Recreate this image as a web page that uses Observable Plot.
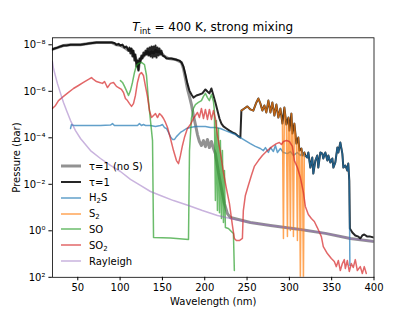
<!DOCTYPE html>
<html><head><meta charset="utf-8">
<script src="https://cdn.jsdelivr.net/npm/d3@7"></script>
<script src="https://cdn.jsdelivr.net/npm/@observablehq/plot@0.6"></script>
<style>
body{margin:0;background:#fff;font-family:"DejaVu Sans",sans-serif;}
#wrap{position:relative;width:415px;height:311px;}
#title{position:absolute;left:52px;width:321.6px;top:20px;text-align:center;font-size:12px;line-height:14px;white-space:nowrap;color:#000;}
#title sub{font-size:8.4px;vertical-align:-2.5px;line-height:0;}
.leg{position:absolute;left:61px;height:14px;display:flex;align-items:center;font-size:10px;white-space:nowrap;color:#000;}
.leg svg{width:20px;height:10px;margin-right:8px;overflow:visible;}
.leg sub{font-size:7px;vertical-align:-2px;line-height:0;}
</style></head>
<body><div id="wrap"><div id="title"><i>T</i><sub>int</sub> = 400 K, strong mixing</div></div>
<script>
// [wavelength (nm), log10 pressure (bar)]
const tauNoS = [[20,-7.80],[26,-7.88],[33.1,-7.97],[41.4,-8.0],[53.2,-8.0],[62.7,-8.06],[72.1,-8.1],[81.6,-8.1],[89.8,-8.1],[95.7,-8.0],[100.4,-7.97],[105.2,-7.88],[109.9,-7.75],[113.4,-7.8],[116,-7.6],[118.1,-7.45],[120.5,-7.2],[121.7,-6.95],[123,-7.3],[125.2,-7.45],[127.6,-7.5],[130,-7.6],[132.3,-7.7],[134.7,-7.6],[137.1,-7.7],[139.5,-7.65],[141.8,-7.75],[144.2,-7.7],[146.5,-7.7],[148.9,-7.65],[152.5,-7.5],[157.2,-7.41],[165.4,-7.37],[172.5,-7.24],[174.8,-6.98],[177.2,-6.55],[179.5,-6.12],[181.9,-5.78],[184.3,-5.43],[186.6,-4.96],[189,-4.57],[191.4,-4.14],[193.7,-3.84],[196.1,-3.67],[198.5,-3.88],[200.8,-3.62],[203.2,-3.93],[205.5,-3.58],[207.9,-3.84],[210.3,-3.54],[212.6,-3.32],[216.2,-2.51],[219.7,-1.82],[223.3,-1.17],[226.8,-0.74],[230.3,-0.57],[253.9,-0.36],[277.6,-0.23],[313,-0.06],[342.5,0.11],[372,0.33],[400,0.46]];
const tau = [[20,-7.80],[22.5,-7.84],[26,-7.88],[29.6,-7.93],[33.1,-7.97],[36.7,-7.97],[41.4,-8.0],[47.3,-8.0],[53.2,-8.0],[59.1,-8.03],[62.7,-8.06],[67.4,-8.08],[72.1,-8.1],[76.8,-8.1],[81.6,-8.1],[86.3,-8.1],[89.8,-8.1],[93.3,-8.08],[95.7,-8.0],[98.1,-8.04],[100.4,-7.97],[102.8,-8.01],[105.2,-7.88],[107.5,-7.93],[109.9,-7.75],[111.1,-7.88],[112.2,-7.63],[113.4,-7.84],[114.6,-7.50],[115.8,-7.75],[117,-7.32],[118.1,-7.58],[119.3,-7.07],[120.5,-7.32],[121.7,-6.89],[122.9,-7.41],[124,-7.24],[125.2,-7.54],[126.4,-7.41],[127.6,-7.67],[128.8,-7.54],[130,-7.75],[131.2,-7.58],[132.3,-7.84],[133.5,-7.54],[134.7,-7.88],[135.9,-7.50],[137.1,-7.93],[138.3,-7.45],[139.5,-7.93],[140.6,-7.50],[141.8,-7.97],[143,-7.45],[144.2,-7.88],[145.4,-7.54],[146.5,-7.84],[147.7,-7.58],[148.9,-7.75],[150.1,-7.54],[152.5,-7.50],[154.8,-7.41],[157.2,-7.41],[160.7,-7.41],[165.4,-7.37],[170.1,-7.32],[172.5,-7.24],[174.8,-7.07],[177.2,-6.72],[179.5,-6.34],[181.9,-6.03],[184.3,-5.86],[186.6,-5.73],[190.2,-5.82],[193.7,-5.86],[197.2,-5.91],[200.8,-6.08],[203.2,-5.99],[205.5,-5.91],[207.9,-6.12],[210.3,-5.82],[212.6,-5.52],[215,-5.17],[217.4,-4.83],[219.7,-4.61],[222.1,-4.49],[225.6,-4.40],[229.2,-4.31],[232.7,-4.23],[236.2,-4.18],[239.8,-4.06],[242.1,-4.01],[243.3,-5.17],[246.8,-5.26],[250.4,-5.35],[253.9,-5.22],[257.4,-5.17],[261,-5.52],[263.4,-5.69],[265.7,-5.48],[268.1,-5.17],[270.5,-5.39],[272.8,-5.09],[275.2,-5.60],[277.6,-5.09],[279.9,-5.52],[282.3,-4.96],[284.7,-5.43],[287,-4.87],[289.4,-5.26],[291.8,-4.61],[294.1,-5.30],[296.5,-4.57],[298.9,-4.87],[300,-4.31],[302.4,-5.04],[303.6,-4.18],[305.9,-4.61],[308.3,-3.75],[310.6,-4.01],[311.8,-3.45],[314.2,-3.54],[315.4,-3.24],[317.7,-3.37],[318.9,-3.24],[321.2,-3.15],[322.4,-3.37],[324.8,-2.72],[327.1,-3.15],[328.3,-2.46],[330.7,-3.02],[333,-3.24],[334.2,-2.72],[336.6,-3.37],[339,-3.32],[340.1,-3.11],[342.5,-3.37],[344.9,-3.02],[346.1,-3.24],[348.4,-2.94],[350.8,-3.11],[352,-2.72],[354.3,-2.94],[356.7,-3.58],[357.9,-3.37],[360.2,-3.80],[362.6,-3.32],[363.8,-2.72],[366.1,-2.81],[368.5,-2.59],[369.6,-2.89],[370.8,-2.16],[371.5,-0.10],[374.4,0.07],[377.9,0.20],[381.6,0.25],[383.8,0.33],[386.2,0.20],[388.5,0.16],[392.1,0.25],[395.6,0.25],[400,0.29]];
const h2s = [[41.4,-4.40],[42.6,-4.57],[44.9,-4.53],[53.2,-4.53],[65,-4.53],[76.8,-4.53],[88.6,-4.55],[91,-4.61],[93.3,-4.53],[100.4,-4.53],[112.2,-4.53],[120.5,-4.53],[122.9,-4.61],[125.2,-4.53],[127.6,-4.57],[130,-4.53],[135.9,-4.53],[141.8,-4.49],[147.7,-4.53],[150.1,-4.57],[152.5,-4.44],[154.8,-4.40],[157.2,-4.23],[159.5,-4.05],[161.9,-3.93],[164.3,-3.93],[166.6,-4.05],[169,-4.14],[171.3,-4.23],[174.8,-4.31],[178.4,-4.40],[183.1,-4.44],[189,-4.49],[194.9,-4.49],[200.8,-4.49],[206.7,-4.44],[212.6,-4.44],[218.5,-4.40],[224.4,-4.31],[230.3,-4.23],[236.2,-4.14],[242.1,-4.01],[248,-3.88],[253.9,-3.75],[259.8,-3.63],[265.7,-3.54],[269.3,-3.45],[271.7,-3.58],[275.2,-3.37],[277.6,-3.58],[281.1,-3.41],[283.5,-3.67],[285.9,-3.37],[289.4,-3.54],[292.9,-3.37],[297.7,-3.32],[301.2,-3.41],[304.8,-3.24],[309.5,-3.37],[313,-3.24],[315.4,-3.37],[317.7,-3.20],[318.9,-3.24],[321.2,-3.15],[322.4,-3.37],[324.8,-2.72],[327.1,-3.15],[328.3,-2.46],[330.7,-3.02],[333,-3.24],[334.2,-2.72],[336.6,-3.37],[339,-3.32],[340.1,-3.11],[342.5,-3.37],[344.9,-3.02],[346.1,-3.24],[348.4,-2.94],[350.8,-3.11],[352,-2.72],[354.3,-2.94],[356.7,-3.58],[357.9,-3.37],[360.2,-3.80],[362.6,-3.32],[363.8,-2.72],[366.1,-2.81],[368.5,-2.59],[369.6,-2.89],[370.8,-2.16],[371.5,1.49]];
const s2 = [[243.3,-5.17],[246.8,-5.26],[250.4,-5.35],[253.9,-5.22],[257.4,-5.17],[261,-5.52],[263.4,-5.69],[265.7,-5.48],[268.1,-5.17],[270.5,-5.39],[272.8,-5.09],[275.2,-5.60],[277.6,-5.09],[279.9,-5.52],[282.3,-4.96],[284.7,-5.43],[287,-4.87],[289.4,-5.26],[291.8,-4.61],[293,0.33],[294.1,-5.30],[296.5,-4.57],[297.7,0.25],[298.9,-4.87],[300,-4.31],[301.2,-0.01],[302.4,-5.04],[303.6,-4.18],[304.8,0.25],[305.9,-4.61],[308.3,-3.75],[309.5,0.42],[310.6,-4.01],[311.8,-3.45],[313,2.14],[314.2,-3.54],[315.4,-3.24],[316.6,2.22],[317.7,-3.37]];
const so = [[100.4,-6.46],[102.8,-6.38],[105.2,-6.21],[107.5,-6.03],[109.9,-5.82],[112.2,-6.03],[114.6,-6.38],[117,-6.81],[119.3,-7.11],[121.7,-7.20],[125.2,-7.24],[128.8,-7.15],[131.2,-6.68],[133.5,-5.60],[135.9,-4.74],[138.3,-3.88],[139.5,0.29],[159.5,0.31],[180.8,0.37],[182,-3.45],[184.3,-4.83],[186.6,-5.26],[189,-5.43],[192.5,-5.52],[196.1,-5.60],[198.5,-5.78],[200.8,-5.91],[203.2,-5.73],[205.5,-5.60],[207.9,-5.86],[210.3,-5.56],[211.4,-5.17],[212.6,-1.30],[213.8,-4.74],[215,-0.87],[216.2,-4.40],[217.4,-0.78],[218.5,-3.88],[219.7,-0.53],[220.9,-3.45],[222.1,-0.36],[223.3,-2.59],[224.4,-0.14],[228,-0.10],[231.5,0.03],[233.9,0.12],[235,1.71]];
const so2 = [[20,-5.26],[23.7,-5.39],[27.2,-5.60],[33.1,-5.78],[39,-5.95],[44.9,-6.12],[50.8,-6.25],[56.7,-6.38],[62.7,-6.51],[66.2,-6.59],[68.6,-6.51],[72.1,-6.42],[75.7,-6.38],[79.2,-6.34],[81.6,-6.42],[85.1,-6.16],[88.6,-6.34],[92.2,-6.38],[95.7,-6.21],[98.1,-6.16],[101.6,-6.08],[104,-5.95],[106.3,-5.69],[108.7,-5.60],[111.1,-5.47],[113.5,-5.35],[115.8,-5.47],[118.1,-5.82],[120.5,-6.38],[122.9,-6.72],[125.2,-6.81],[127.6,-6.68],[130,-6.21],[132.3,-5.78],[134.7,-5.17],[137.1,-4.87],[139.5,-4.96],[141.8,-5.04],[144.2,-4.87],[146.5,-5.04],[148.9,-4.96],[151.3,-4.83],[153.6,-4.66],[156,-4.44],[159.5,-3.97],[163.1,-3.45],[166.6,-3.02],[169,-2.89],[171.3,-3.24],[173.7,-3.67],[176,-4.01],[179.5,-4.40],[183.1,-4.57],[186.6,-4.83],[189,-4.96],[191.4,-5.09],[193.7,-4.87],[196.1,-5.26],[198.5,-4.83],[200.8,-5.22],[203.2,-4.79],[205.5,-5.22],[207.9,-4.79],[210.3,-5.17],[212.6,-4.83],[215,-4.10],[218.5,-3.37],[222.1,-2.51],[225.6,-1.82],[229.2,-1.17],[232.7,-0.23],[235,0.33],[237.4,0.42],[240.9,0.42],[244.5,0.33],[245.6,-0.87],[248,-1.52],[251.5,-1.95],[255.1,-2.38],[258.6,-2.77],[263.4,-3.02],[268.1,-3.24],[274,-3.45],[279.9,-3.63],[284.7,-3.75],[288.2,-3.80],[290.6,-3.71],[293,-3.84],[296.5,-3.88],[300,-3.84],[303.6,-3.63],[305.9,-3.02],[309.5,-2.72],[313,-2.29],[316.6,-1.65],[318.9,-1.05],[322.4,-0.70],[326,-0.53],[329.5,-0.40],[333,-0.14],[337.8,0.25],[340.1,0.68],[344.9,0.98],[349.6,1.19],[353.1,1.32],[355.5,1.54],[357.9,1.28],[360.2,1.71],[362.6,1.41],[364.9,1.24],[366.1,1.62],[368.5,1.28],[370.8,1.75],[373.2,1.41],[375.5,1.58],[377.9,1.24],[380.3,1.71],[383.8,1.54],[386.2,1.84],[388.5,1.54],[390.9,1.84]];
const rayleigh = [[20,-7.28],[21.3,-6.98],[23.7,-6.64],[26,-6.33],[29.6,-5.91],[33.1,-5.52],[36.7,-5.17],[41.4,-4.74],[47.3,-4.31],[53.2,-3.97],[59.1,-3.71],[65,-3.45],[76.8,-3.11],[88.6,-2.81],[100.4,-2.55],[112.2,-2.21],[124,-1.95],[135.9,-1.69],[147.7,-1.52],[163.1,-1.30],[180.8,-1.09],[197.2,-0.87],[215,-0.66],[230.3,-0.53],[253.9,-0.36],[277.6,-0.23],[313,-0.06],[342.5,0.11],[372,0.33],[400,0.46]];

const seriesNames = ["τ=1 (no S)", "τ=1", "H<sub>2</sub>S", "S<sub>2</sub>", "SO", "SO<sub>2</sub>", "Rayleigh"];
const seriesData = [tauNoS, tau, h2s, s2, so, so2, rayleigh];
const seriesColors = ["#7f7f7f", "#000000", "#1f77b4", "#ff7f0e", "#2ca02c", "#d62728", "#9467bd"];
const seriesWidths = [3, 2, 1.5, 1.5, 1.5, 1.5, 1.5];
const seriesOpacity = [0.85, 0.85, 0.7, 0.7, 0.7, 0.7, 0.5];

const xTicks = [50, 100, 150, 200, 250, 300, 350, 400];
const yTicks = [1e-8, 1e-6, 1e-4, 1e-2, 1, 1e2];

const supMap = {"-":"\u207B","0":"\u2070","1":"\u00B9","2":"\u00B2","3":"\u00B3","4":"\u2074","5":"\u2075","6":"\u2076","7":"\u2077","8":"\u2078","9":"\u2079"};
const fmtY = d => "10" + String(Math.round(Math.log10(d))).replace(/./g, c => supMap[c]);

const lineMarks = seriesData.map((pts, i) => Plot.line(
  pts.map(([w, lp]) => ({w, p: Math.pow(10, lp)})),
  {x: "w", y: "p", stroke: seriesColors[i], strokeWidth: seriesWidths[i], strokeOpacity: seriesOpacity[i], strokeLinejoin: "round", clip: true}
));

const chart = Plot.plot({
  width: 415, height: 311,
  marginLeft: 51.9, marginRight: 41.5, marginTop: 37.3, marginBottom: 34.2,
  style: {fontFamily: "DejaVu Sans", fontSize: "10px", background: "white", color: "black", overflow: "visible"},
  x: {domain: [20, 400]},
  y: {type: "log", domain: [100, Math.pow(10, -8.301)]},
  marks: [
    ...lineMarks,
    Plot.frame({stroke: "black", strokeWidth: 0.8}),
    Plot.axisX({ticks: xTicks, tickSize: 3.5, tickPadding: 3.5, fontSize: 10, label: "Wavelength (nm)", labelAnchor: "center", labelArrow: "none", labelOffset: 28}),
    Plot.axisY({ticks: yTicks, tickFormat: fmtY, tickSize: 3.5, tickPadding: 3.5, fontSize: 10, label: "Pressure (bar)", labelAnchor: "center", labelArrow: "none", labelOffset: 40})
  ]
});
const wrap = document.getElementById("wrap");
wrap.insertBefore(chart, wrap.firstChild);

seriesNames.forEach((name, i) => {
  const row = document.createElement("div");
  row.className = "leg";
  row.style.top = (166.2 + i * 15.8 - 7) + "px";
  row.innerHTML = `<svg viewBox="0 0 20 10"><line x1="0" y1="5" x2="20" y2="5" stroke="${seriesColors[i]}" stroke-width="${seriesWidths[i]}" stroke-opacity="${seriesOpacity[i]}"/></svg><span>${name}</span>`;
  wrap.appendChild(row);
});
</script></body></html>
